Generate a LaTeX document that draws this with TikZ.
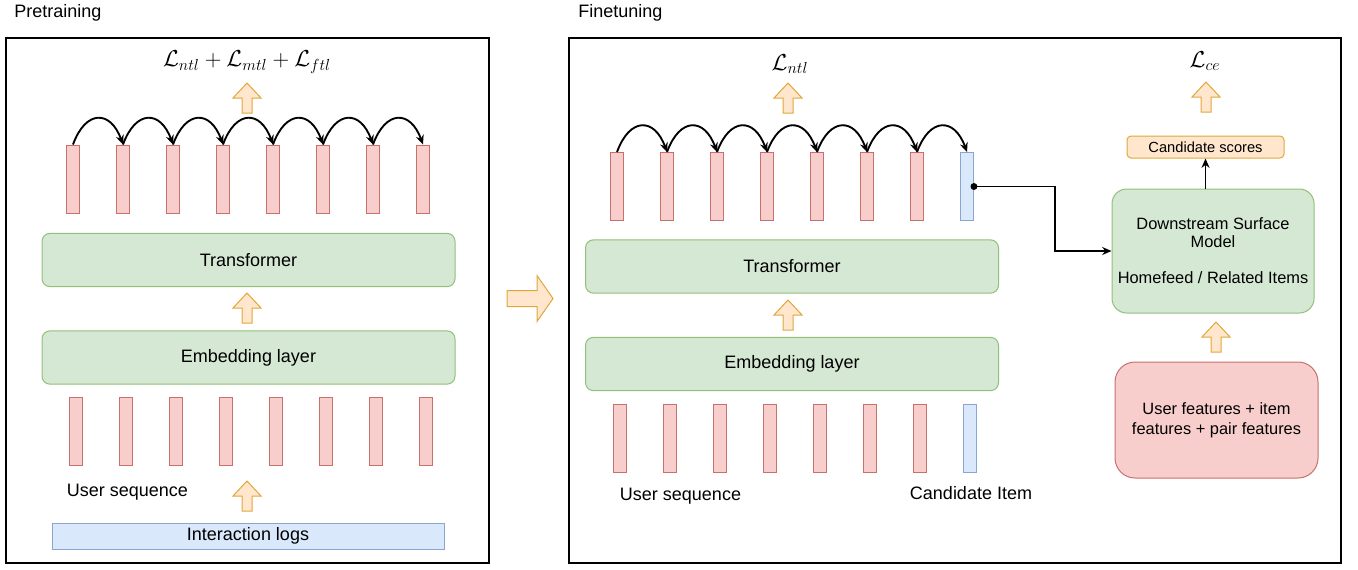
\documentclass[tikz,border=0pt]{standalone}
\usepackage[no-math]{fontspec}
\setmainfont{Liberation Sans}
\usetikzlibrary{arrows.meta}
\definecolor{barfill}{HTML}{F8CECC}
\definecolor{barline}{HTML}{C8706C}
\definecolor{bluefill}{HTML}{DAE8FC}
\definecolor{blueline}{HTML}{8AA6D0}
\definecolor{greenfill}{HTML}{D5E8D4}
\definecolor{greenline}{HTML}{92C07A}
\definecolor{orangefill}{HTML}{FFE6CC}
\definecolor{orangeline}{HTML}{E0A83A}
\tikzset{
  seqbar/.style={draw=barline,fill=barfill,line width=0.7pt,minimum width=9.75pt,minimum height=51pt,inner sep=0pt},
  candbar/.style={seqbar,draw=blueline,fill=bluefill},
  layerbox/.style={draw=greenline,fill=greenfill,line width=0.75pt,rounded corners=6pt,minimum width=309.75pt,minimum height=40pt,font=\fontsize{13.5}{16}\selectfont},
  hop/.style={-{Stealth[length=7pt,width=6pt]},line width=1.4pt,out=70,in=110,looseness=1.9},
  link/.style={-{Stealth[length=7pt,width=6pt]},line width=1.3pt},
  label/.style={font=\fontsize{13.5}{16}\selectfont,inner sep=0pt},
  loss/.style={font=\fontsize{18.5}{22}\selectfont,inner sep=0pt},
  blockarrow/.style={draw=orangeline,fill=orangefill,line width=0.75pt},
  uparrow/.pic={\draw[blockarrow] (0,0) -- (14,15) -- (5,15) -- (5,30) -- (-5,30) -- (-5,15) -- (-14,15) -- cycle;},
  rightarrow/.pic={\draw[blockarrow] (0,0) -- (-16,-23) -- (-16,-8) -- (-46,-8) -- (-46,8) -- (-16,8) -- (-16,23) -- cycle;}
}
\begin{document}
\begin{tikzpicture}[x=0.75pt,y=-0.75pt]
\useasboundingbox (0,0) rectangle (1358,569);
% frames
\draw[line width=1.5pt] (6,38) rectangle (489,563);
\draw[line width=1.5pt] (569,38) rectangle (1341,563);
\node[label,anchor=west] (ptitle) at (14,13) {Pretraining};
\node[label,anchor=west] (ftitle) at (578,13) {Finetuning};

% pretraining
\node[loss] (ploss) at (247,62) {$\mathcal{L}_{ntl}+\mathcal{L}_{mtl}+\mathcal{L}_{ftl}$};
\pic at (247,83) {uparrow};
\foreach \i in {0,...,7}
  \node[seqbar] (ptop\i) at ({73+50*\i},179) {};
\foreach \i [evaluate=\i as \j using int(\i+1)] in {0,...,6}
  \draw[hop] (ptop\i.north) to (ptop\j.north);
\node[layerbox] (ptrans) at (248.5,260) {Transformer};
\pic at (247,293) {uparrow};
\node[layerbox] (pemb) at (248.5,357.5) {Embedding layer};
\foreach \i in {0,...,7}
  \node[seqbar] (pbot\i) at ({76+50*\i},431.5) {};
\node[label] (pseq) at (127.5,492) {User sequence};
\pic at (247,481) {uparrow};
\node[draw=blueline,fill=bluefill,line width=0.75pt,minimum width=294pt,minimum height=19.5pt,label] (logs) at (248,536) {Interaction logs};

% pretraining -> finetuning
\pic at (553,298.5) {rightarrow};

% finetuning
\node[loss] (floss) at (790,64) {$\mathcal{L}_{ntl}$};
\pic at (788,83) {uparrow};
\foreach \i in {0,...,6}
  \node[seqbar] (ftop\i) at ({617+50*\i},186.5) {};
\node[candbar] (ftop7) at (967,186.5) {};
\foreach \i [evaluate=\i as \j using int(\i+1)] in {0,...,6}
  \draw[hop] (ftop\i.north) to (ftop\j.north);
\node[layerbox] (ftrans) at (792,266.5) {Transformer};
\pic at (788,300) {uparrow};
\node[layerbox] (femb) at (792,364) {Embedding layer};
\foreach \i in {0,...,6}
  \node[seqbar] (fbot\i) at ({620+50*\i},438) {};
\node[candbar] (fbot7) at (970,438) {};
\node[label] (fseq) at (680.5,496) {User sequence};
\node[label] (fcand) at (971,493) {Candidate Item};

% downstream model
\node[draw=greenline,fill=greenfill,line width=0.75pt,rounded corners=11pt,minimum width=151.5pt,minimum height=93pt,align=center,font=\fontsize{12.3}{13.5}\selectfont] (dsm) at (1213,251) {Downstream Surface\\Model\\[13.5pt]Homefeed / Related Items};
\node[draw=orangeline,fill=orangefill,line width=0.75pt,rounded corners=3pt,minimum width=117.75pt,minimum height=16.5pt,inner sep=0pt,font=\fontsize{11}{13}\selectfont] (scores) at (1205.5,147) {Candidate scores};
\node[loss] (celoss) at (1205,61) {$\mathcal{L}_{ce}$};
\pic at (1206,82) {uparrow};
\pic at (1216,322) {uparrow};
\node[draw=barline,fill=barfill,line width=0.75pt,rounded corners=15pt,minimum width=152.25pt,minimum height=87pt,align=center,font=\fontsize{12.3}{15}\selectfont] (feats) at (1216.5,420) {User features + item\\features + pair features};

\coordinate (bend) at (1055,186.5);
\fill (ftop7.east) circle (2.6pt);
\draw[link] (ftop7.east) -- (bend) |- (dsm.west);
\draw[link] (dsm.north -| scores) -- (scores.south);
\end{tikzpicture}
\end{document}
